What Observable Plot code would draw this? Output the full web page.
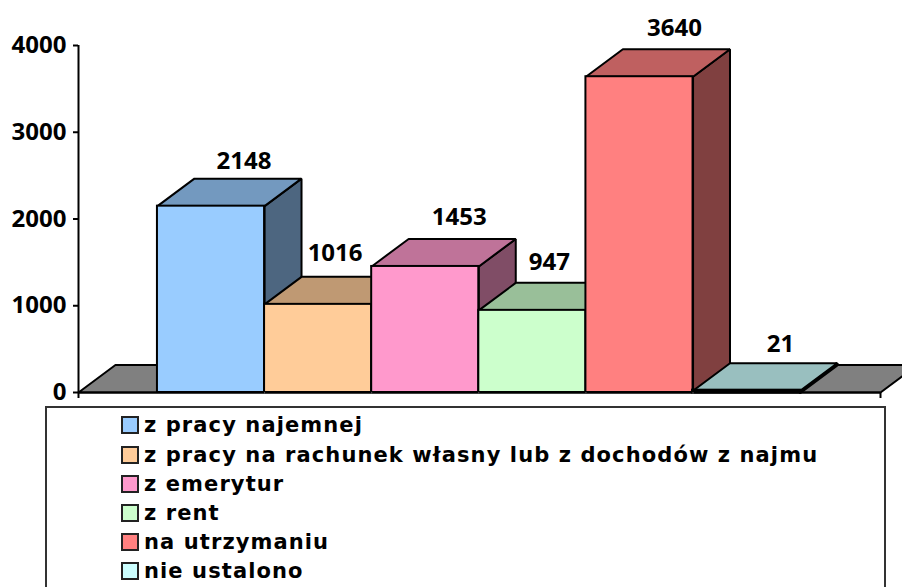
<!DOCTYPE html>
<html><head><meta charset="utf-8">
<style>
html,body{margin:0;padding:0;background:#fff;overflow:hidden;width:902px;height:587px}
svg{display:block}
#legend{position:absolute;left:45px;top:406px;width:837px;height:200px;border:2px solid #333;background:#fff;box-sizing:content-box}
.row{position:absolute;left:74px;height:29px;display:flex;align-items:center;font:bold 21px "DejaVu Sans";color:#000;white-space:nowrap;letter-spacing:1.1px}
.sw{width:14px;height:14px;border:2px solid #222;margin-right:5px;flex:none}
</style>
<script src="https://cdn.jsdelivr.net/npm/d3@7"></script>
<script src="https://cdn.jsdelivr.net/npm/@observablehq/plot@0.6"></script>
</head><body>
<div id="chart"></div>
<div id="legend"></div>
<script>
const categories = ["z pracy najemnej","z pracy na rachunek własny lub z dochodów z najmu","z emerytur","z rent","na utrzymaniu","nie ustalono"];
const values = [2148,1016,1453,947,3640,21];
const frontColors = ["#99CCFF","#FFCC99","#FF99CC","#CCFFCC","#FF8080","#CCFFFF"];
const topColors = ["#7399BF","#BF9973","#BF7399","#99BF99","#BF6060","#99BFBF"];
const sideColors = ["#4D6680","#806650","#804D66","#668066","#804040","#668080"];
const yTicks = [0,1000,2000,3000,4000];

// oblique projection depth, in scale units
const depthX = 0.345, depthY = 317;
const xMin = -0.737, xMax = 6.75;
// per-label nudges of the value labels, in pixels
const labelDx = [-4,-20,-3,-20,-2,-3];
const labelDy = [-17,-24,-22,-21,-21,-19];

const line = (pts, fill, strokeWidth = 2) =>
  Plot.line([...pts, pts[0]], {x: d => d[0], y: d => d[1], fill, stroke: "#000", strokeWidth, strokeLinejoin: "miter", curve: "linear"});

const barMarks = values.flatMap((v, i) => [
  line([[i+1,0],[i+1+depthX,depthY],[i+1+depthX,v+depthY],[i+1,v]], sideColors[i], v < 100 ? 3 : 2),
  line([[i,v],[i+depthX,v+depthY],[i+1+depthX,v+depthY],[i+1,v]], topColors[i]),
  Plot.rect([{i,v}], {x1: d => d.i, x2: d => d.i + 1, y1: 0, y2: d => d.v, fill: frontColors[i], stroke: "#000", strokeWidth: v < 100 ? 3 : 2})
]);

const plot = Plot.plot({
  width: 902, height: 410,
  marginLeft: 78, marginRight: 22, marginTop: 45, marginBottom: 18,
  style: {fontFamily: '"Open Sans"', background: "transparent", overflow: "hidden"},
  x: {domain: [xMin, xMax], axis: null},
  y: {domain: [0, 4000], axis: null},
  marks: [
    line([[xMin,0],[xMin+depthX,depthY],[xMax+depthX,depthY],[xMax,0]], "#808080"),
    ...barMarks,
    Plot.ruleY([0], {stroke: "#000", strokeWidth: 2}),
    Plot.ruleX([xMin], {y1: 0, y2: 4000, stroke: "#000", strokeWidth: 2}),
    Plot.axisY({ticks: yTicks, anchor: "left", tickSize: 5, tickPadding: 7, tickFormat: d => String(d), label: null, fill: "#000", strokeWidth: 2, stroke: "#000", fontSize: 24, fontWeight: "bold"}),
    Plot.axisX({ticks: [xMin, xMax], anchor: "bottom", tickSize: 6, tickFormat: () => "", label: null, stroke: "#000", strokeWidth: 2}),
    Plot.axisX({ticks: d3.range(1, 6), anchor: "bottom", tickSize: 2, tickFormat: () => "", label: null, stroke: "#555"}),
    Plot.text(values, {
      x: (d, i) => i + 0.5 + depthX,
      y: d => d + depthY,
      text: d => String(d),
      fontSize: 24, fontWeight: "bold", fill: "#000", textAnchor: "middle"
    })
  ]
});
// move each value label by its nudge
d3.select(plot).selectAll('g[aria-label="text"] text').each(function (d, i) {
  const t = this.getAttribute("transform");
  this.setAttribute("transform", (t ? t + " " : "") + `translate(${labelDx[i]},${labelDy[i]})`);
});
document.getElementById("chart").append(plot);

const tops = [410,440,469,498,527,556];
const lg = document.getElementById("legend");
categories.forEach((c, i) => {
  const r = document.createElement("div");
  r.className = "row";
  r.style.top = (tops[i] - 408) + "px";
  const s = document.createElement("span");
  s.className = "sw"; s.style.background = frontColors[i];
  const t = document.createElement("span");
  t.textContent = c;
  r.append(s, t);
  lg.append(r);
});
</script>
</body></html>
